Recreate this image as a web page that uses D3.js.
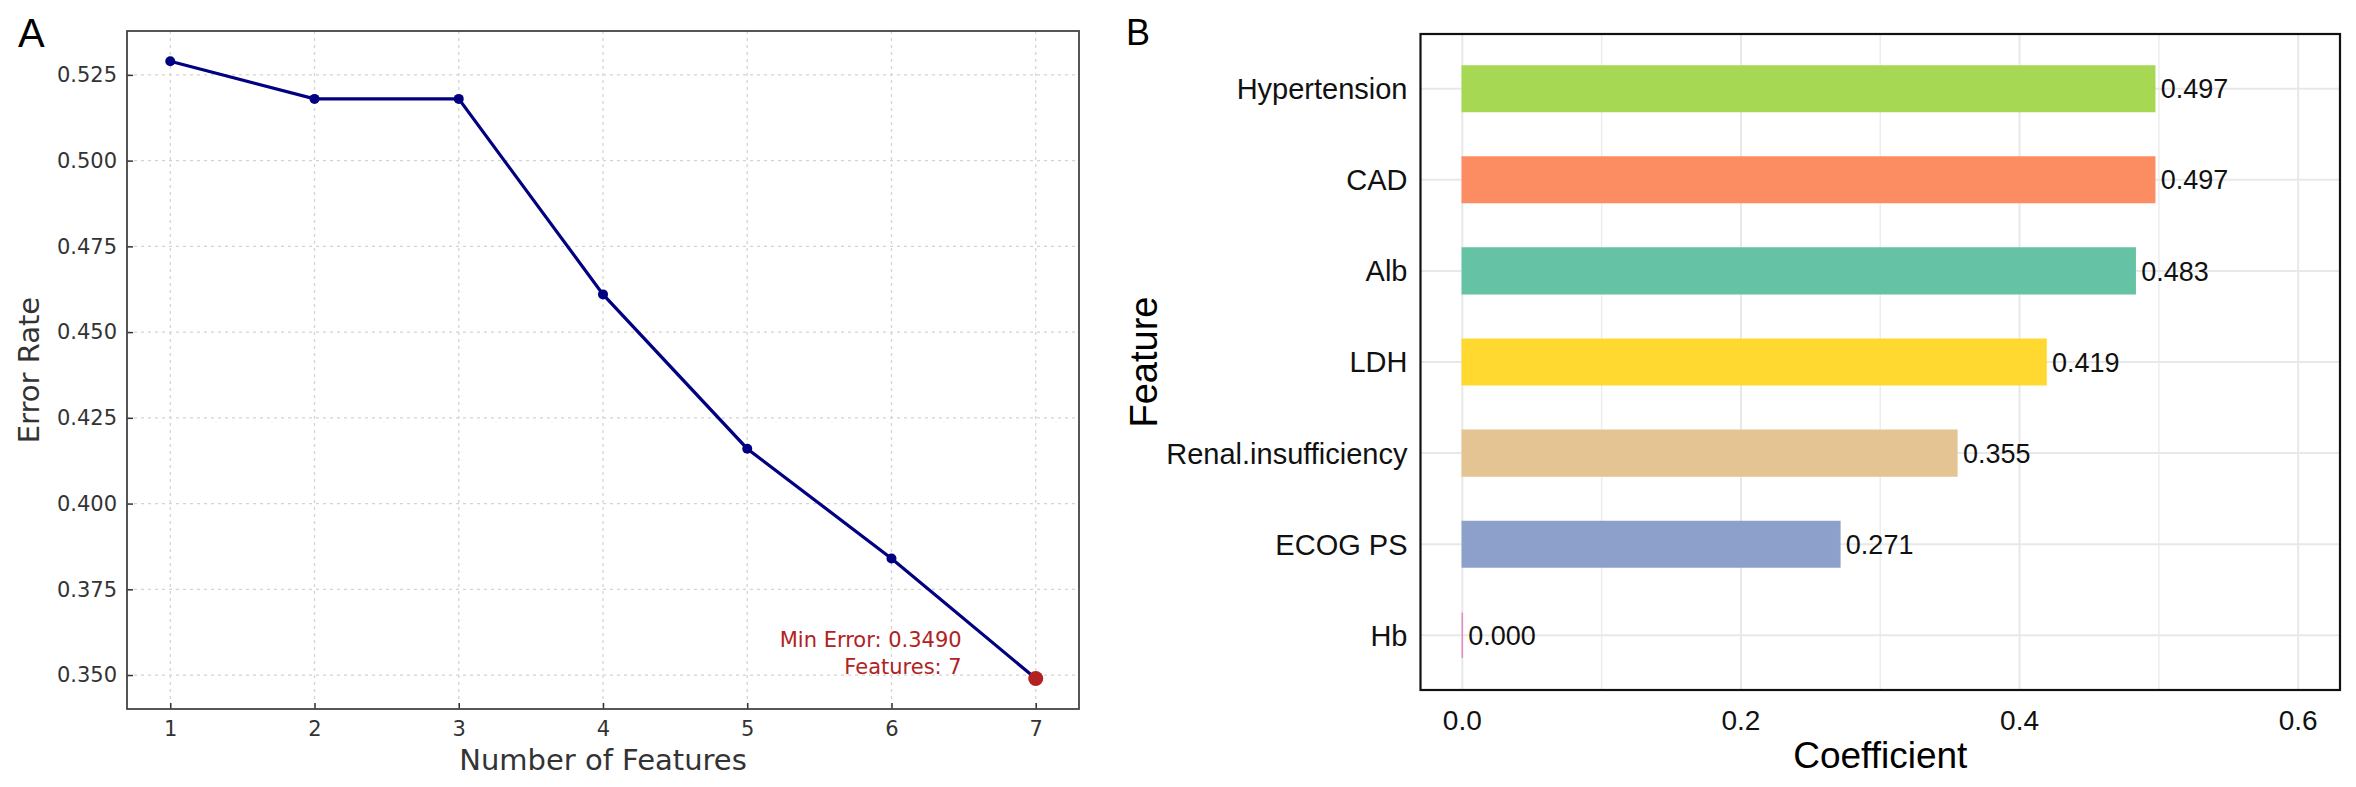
<!DOCTYPE html>
<html>
<head>
<meta charset="utf-8">
<script src="https://cdn.jsdelivr.net/npm/d3@7"></script>
<style>
    body { margin: 0; background: #fff; }
    svg { display: block; }
</style>
</head>
<body>
<svg id="fig" width="2356" height="787"></svg>
<script>
// panel A data
let nFeatures = [1, 2, 3, 4, 5, 6, 7]
let errorRate = [0.529, 0.518, 0.518, 0.461, 0.416, 0.384, 0.349]
let errorTicks = [0.350, 0.375, 0.400, 0.425, 0.450, 0.475, 0.500, 0.525]

// panel B data
let features = ["Hypertension", "CAD", "Alb", "LDH", "Renal.insufficiency", "ECOG PS", "Hb"]
let coefficients = [0.497, 0.497, 0.483, 0.419, 0.355, 0.271, 0.000]
let barColors = ["#A6D854", "#FC8D62", "#66C2A5", "#FFD92F", "#E5C494", "#8DA0CB", "#E78AC3"]
let coefTicks = [0.0, 0.2, 0.4, 0.6]
let coefMinor = [0.1, 0.3, 0.5]

let svg = d3.select("#fig")

showLine()
showBars()

function showLine() {
    let left = 127, right = 1079, top = 31, bottom = 709
    let font = "'DejaVu Sans', sans-serif"

    let x = d3.scaleLinear().domain([0.7, 7.3]).range([left, right])
    let y = d3.scaleLinear().domain([0.3401, 0.5378]).range([bottom, top])

    let g = svg.append("g")

    // dotted grid
    g.selectAll(".vgrid")
        .data(nFeatures)
        .enter()
        .append("line")
        .attr("x1", d => x(d)).attr("x2", d => x(d))
        .attr("y1", top).attr("y2", bottom)
        .attr("stroke", "#d4d4d4")
        .attr("stroke-width", 1.3)
        .attr("stroke-dasharray", "3,4")

    g.selectAll(".hgrid")
        .data(errorTicks)
        .enter()
        .append("line")
        .attr("x1", left).attr("x2", right)
        .attr("y1", d => y(d)).attr("y2", d => y(d))
        .attr("stroke", "#d4d4d4")
        .attr("stroke-width", 1.3)
        .attr("stroke-dasharray", "3,4")

    // axes, ticks pointing inward
    let xAxis = g.append("g")
        .attr("transform", "translate(0," + bottom + ")")
        .call(d3.axisBottom(x).tickValues(nFeatures).tickFormat(d3.format("d"))
            .tickSizeInner(-6).tickSizeOuter(0).tickPadding(12))
    let yAxis = g.append("g")
        .attr("transform", "translate(" + left + ",0)")
        .call(d3.axisLeft(y).tickValues(errorTicks).tickFormat(d3.format(".3f"))
            .tickSizeInner(-6).tickSizeOuter(0).tickPadding(10))

    for (let ax of [xAxis, yAxis]) {
        ax.select(".domain").remove()
        ax.selectAll("line").attr("stroke", "#333").attr("stroke-width", 1.5)
        ax.selectAll("text")
            .attr("fill", "#333")
            .style("font-family", font)
            .style("font-size", "21px")
    }
    xAxis.selectAll("text").attr("dy", "0.71em")

    g.append("rect")
        .attr("x", left).attr("y", top)
        .attr("width", right - left).attr("height", bottom - top)
        .attr("fill", "none")
        .attr("stroke", "#444")
        .attr("stroke-width", 1.8)

    let line = d3.line()
        .x((d, i) => x(nFeatures[i]))
        .y(d => y(d))

    g.append("path")
        .datum(errorRate)
        .attr("d", line)
        .attr("fill", "none")
        .attr("stroke", "#000080")
        .attr("stroke-width", 3.2)

    let minIdx = d3.minIndex(errorRate)

    g.selectAll(".pt")
        .data(errorRate)
        .enter()
        .append("circle")
        .attr("cx", (d, i) => x(nFeatures[i]))
        .attr("cy", d => y(d))
        .attr("r", (d, i) => i == minIdx ? 7.5 : 5)
        .attr("fill", (d, i) => i == minIdx ? "#B22222" : "#000080")

    let note = g.append("text")
        .attr("x", x(nFeatures[minIdx]) - 74)
        .attr("y", y(errorRate[minIdx]) - 31)
        .attr("text-anchor", "end")
        .attr("fill", "#B22222")
        .style("font-family", font)
        .style("font-size", "21px")
    note.append("tspan")
        .text("Min Error: " + errorRate[minIdx].toFixed(4))
    note.append("tspan")
        .attr("x", x(nFeatures[minIdx]) - 74)
        .attr("dy", 27)
        .text("Features: " + nFeatures[minIdx])

    g.append("text")
        .attr("x", (left + right) / 2)
        .attr("y", 770)
        .attr("text-anchor", "middle")
        .attr("fill", "#333")
        .style("font-family", font)
        .style("font-size", "29px")
        .text("Number of Features")

    g.append("text")
        .attr("transform", "translate(39," + (top + bottom) / 2 + ") rotate(-90)")
        .attr("text-anchor", "middle")
        .attr("fill", "#333")
        .style("font-family", font)
        .style("font-size", "29px")
        .text("Error Rate")

    svg.append("text")
        .attr("x", 18).attr("y", 47)
        .style("font-family", "'Liberation Sans', Arial, sans-serif")
        .style("font-size", "40px")
        .text("A")
}

function showBars() {
    let left = 1420.5, right = 2340, top = 34, bottom = 690
    let font = "'Liberation Sans', Arial, sans-serif"

    let x = d3.scaleLinear().domain([-0.03, 0.63]).range([left, right])
    let y = d3.scaleBand()
        .domain(features)
        .range([top, bottom])
        .paddingInner(0.5)
        .paddingOuter(0.35)

    let g = svg.append("g")

    g.selectAll(".minor")
        .data(coefMinor)
        .enter()
        .append("line")
        .attr("x1", d => x(d)).attr("x2", d => x(d))
        .attr("y1", top).attr("y2", bottom)
        .attr("stroke", "#ededed")
        .attr("stroke-width", 1.5)

    g.selectAll(".major")
        .data(coefTicks)
        .enter()
        .append("line")
        .attr("x1", d => x(d)).attr("x2", d => x(d))
        .attr("y1", top).attr("y2", bottom)
        .attr("stroke", "#e8e8e8")
        .attr("stroke-width", 2)

    g.selectAll(".hgrid")
        .data(features)
        .enter()
        .append("line")
        .attr("x1", left).attr("x2", right)
        .attr("y1", d => y(d) + y.bandwidth() / 2)
        .attr("y2", d => y(d) + y.bandwidth() / 2)
        .attr("stroke", "#e8e8e8")
        .attr("stroke-width", 2)

    // bars as paths so a zero-length bar still shows its outline
    g.selectAll(".bar")
        .data(coefficients)
        .enter()
        .append("path")
        .attr("d", (d, i) => {
            let x0 = x(0), y0 = y(features[i])
            return "M" + x0 + "," + y0 + "H" + x(d) + "V" + (y0 + y.bandwidth()) + "H" + x0 + "Z"
        })
        .attr("fill", (d, i) => barColors[i])
        .attr("stroke", (d, i) => barColors[i])
        .attr("stroke-width", 1.5)

    g.selectAll(".val")
        .data(coefficients)
        .enter()
        .append("text")
        .attr("x", d => x(d) + 6)
        .attr("y", (d, i) => y(features[i]) + y.bandwidth() / 2)
        .attr("dy", "0.36em")
        .attr("fill", "#111")
        .style("font-family", font)
        .style("font-size", "27px")
        .text(d => d.toFixed(3))

    g.selectAll(".cat")
        .data(features)
        .enter()
        .append("text")
        .attr("x", left - 13)
        .attr("y", d => y(d) + y.bandwidth() / 2)
        .attr("dy", "0.36em")
        .attr("text-anchor", "end")
        .attr("fill", "#111")
        .style("font-family", font)
        .style("font-size", "29px")
        .text(d => d)

    g.selectAll(".tick")
        .data(coefTicks)
        .enter()
        .append("text")
        .attr("x", d => x(d))
        .attr("y", 730)
        .attr("text-anchor", "middle")
        .attr("fill", "#111")
        .style("font-family", font)
        .style("font-size", "28px")
        .text(d => d.toFixed(1))

    g.append("rect")
        .attr("x", left).attr("y", top)
        .attr("width", right - left).attr("height", bottom - top)
        .attr("fill", "none")
        .attr("stroke", "#111")
        .attr("stroke-width", 2.2)

    g.append("text")
        .attr("x", (left + right) / 2)
        .attr("y", 768)
        .attr("text-anchor", "middle")
        .attr("fill", "#000")
        .style("font-family", font)
        .style("font-size", "37px")
        .text("Coefficient")

    g.append("text")
        .attr("transform", "translate(1157," + (top + bottom) / 2 + ") rotate(-90)")
        .attr("text-anchor", "middle")
        .attr("fill", "#000")
        .style("font-family", font)
        .style("font-size", "38px")
        .text("Feature")

    svg.append("text")
        .attr("x", 1126).attr("y", 45)
        .style("font-family", font)
        .style("font-size", "36px")
        .text("B")
}
</script>
</body>
</html>
